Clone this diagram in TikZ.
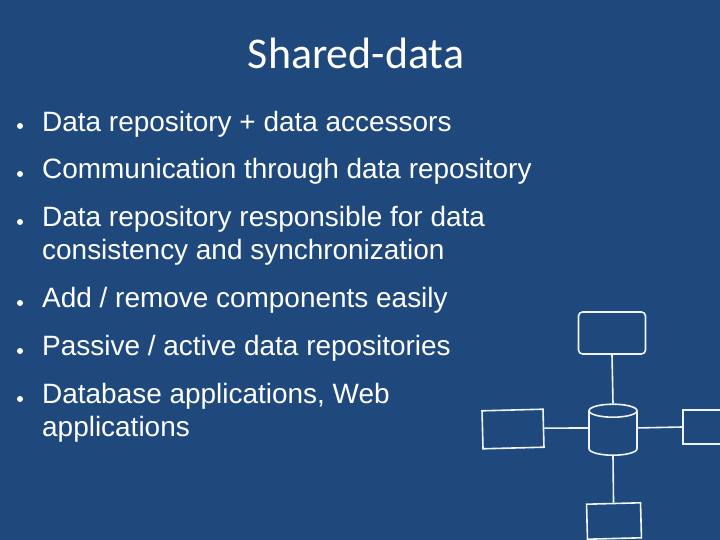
\documentclass[tikz,border=0pt]{standalone}
\usepackage{fontspec}
\setmainfont{Liberation Sans}
\newfontfamily\titlefont{Carlito}
\usetikzlibrary{shapes.geometric}
\definecolor{slideblue}{HTML}{1F497D}
\definecolor{chalk}{HTML}{EEF4F9}
\tikzset{
    item/.style={
        anchor=base west,
        inner sep=0pt,
        text=white,
        align=left,
        font=\fontsize{27.95}{33.5}\selectfont,
    },
    dot/.style={
        circle,
        fill=white,
        inner sep=0pt,
        minimum size=6pt,
    },
    sketch/.style={
        draw=chalk,
        line width=1.6pt,
        inner sep=0pt,
    },
    link/.style={
        draw=chalk,
        line width=1.6pt,
    },
}
\begin{document}
\begin{tikzpicture}[x=1pt, y=-1pt]
      \fill[slideblue] (0,0) rectangle (720,540);
      \useasboundingbox (0,0) rectangle (720,540);

      \node[anchor=base, inner sep=0pt, text=white, font=\titlefont\fontsize{43.9}{52}\selectfont] (title) at (356,69) {Shared-data};

      \node[dot] (d1) at (20,126) {};
      \node[dot] (d2) at (20,174) {};
      \node[dot] (d3) at (20,222) {};
      \node[dot] (d4) at (20,303) {};
      \node[dot] (d5) at (20,351) {};
      \node[dot] (d6) at (20,399) {};

      \node[item] (i1) at (42,131.5) {Data repository + data accessors};
      \node[item] (i2) at (42,179) {Communication through data repository};
      \node[item, anchor=north west] (i3) at (42,206) {Data repository responsible for data\\consistency and synchronization};
      \node[item] (i4) at (42,307.5) {Add / remove components easily};
      \node[item] (i5) at (42,355.5) {Passive / active data repositories};
      \node[item, anchor=north west] (i6) at (42,383) {Database applications, Web\\applications};

      % sketch in the corner
      \node[sketch, rounded corners=4pt, minimum width=67pt, minimum height=42pt] (top) at (612,333) {};
      \node[sketch, rotate=1.5, minimum width=61pt, minimum height=38pt] (left) at (513,429) {};
      \node[sketch, minimum width=66pt, minimum height=34pt] (right) at (716,427) {};
      \node[sketch, rotate=1.5, minimum width=54pt, minimum height=35pt] (bottom) at (614,521) {};
      \node[sketch, cylinder, shape border rotate=90, inner xsep=10pt, inner ysep=18pt, shape aspect=0.65, minimum width=48pt, minimum height=33pt] (repo) at (613,436) {};

      \draw[link] (top.south) -- (repo.north);
      \draw[link] (left.east) -- (repo.162);
      \draw[link] (repo.18) -- (right.west);
      \draw[link] (repo.south) -- (bottom.north);
    \end{tikzpicture}
\end{document}
